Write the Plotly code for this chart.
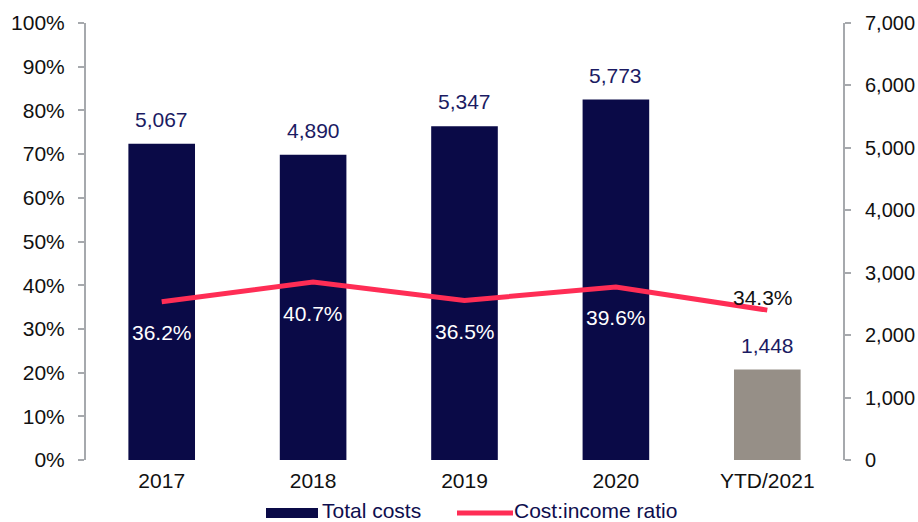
import plotly.graph_objects as go

# Data
categories = ["2017", "2018", "2019", "2020", "YTD/2021"]
total_costs = [5067, 4890, 5347, 5773, 1448]
cost_income_ratio = [0.362, 0.407, 0.365, 0.396, 0.343]

NAVY = "#0A0A47"
GREY_BAR = "#968F87"
RED = "#FF2D55"
AXIS = "#A6A9AD"
FONT = "Arial, Liberation Sans, sans-serif"
FS = 21

bar_colors = [NAVY] * 4 + [GREY_BAR]

fig = go.Figure()

# Bars on the right-hand axis (primary), ratio line on the left-hand overlay so it sits on top
fig.add_trace(go.Bar(
    x=categories, y=total_costs, yaxis="y",
    marker=dict(color=bar_colors, line=dict(width=0)),
    name="Total costs", showlegend=False, hoverinfo="skip",
))

fig.add_trace(go.Scatter(
    x=categories, y=cost_income_ratio, yaxis="y2",
    mode="lines", line=dict(color=RED, width=5),
    name="Cost:income ratio", showlegend=False, hoverinfo="skip",
))

annotations = []
# Value labels above the bars (category index used as x position)
for i, v in enumerate(total_costs):
    annotations.append(dict(
        x=i, y=v, xref="x", yref="y", text=f"{v:,}",
        showarrow=False, yanchor="bottom", yshift=11,
        font=dict(family=FONT, size=FS, color="#1B1B63"),
    ))
# Ratio labels
for i, r in enumerate(cost_income_ratio):
    last = i == len(categories) - 1
    annotations.append(dict(
        x=i, y=r, xref="x", yref="y2", text=f"{r * 100:.1f}%",
        showarrow=False, yanchor="middle",
        yshift=13 if last else -31, xshift=-4 if last else 0,
        font=dict(family=FONT, size=FS, color="#111111" if last else "white"),
    ))

# Legend drawn below the plot
PLOT_W = 757
PLOT_H = 437
key_y = -53 / PLOT_H
text_y = -50 / PLOT_H
shapes = [
    dict(type="rect", xref="paper", yref="paper",
         x0=(266 - 86) / PLOT_W, x1=(318 - 86) / PLOT_W,
         y0=key_y - 5 / PLOT_H, y1=key_y + 5 / PLOT_H,
         fillcolor=NAVY, line=dict(width=0)),
    dict(type="line", xref="paper", yref="paper",
         x0=(457 - 86) / PLOT_W, x1=(513 - 86) / PLOT_W,
         y0=key_y, y1=key_y,
         line=dict(color=RED, width=5)),
]
annotations += [
    dict(x=(321 - 86) / PLOT_W, y=text_y, xref="paper", yref="paper",
         text="Total costs", showarrow=False, xanchor="left", yanchor="middle",
         borderpad=0,
         font=dict(family=FONT, size=FS, color="#0E0E4E")),
    dict(x=(513 - 86) / PLOT_W, y=text_y, xref="paper", yref="paper",
         text="Cost:income ratio", showarrow=False, xanchor="left", yanchor="middle",
         borderpad=0,
         font=dict(family=FONT, size=FS, color="#0E0E4E")),
]

fig.update_layout(
    width=918, height=522,
    margin=dict(l=86, r=75, t=23, b=62),
    paper_bgcolor="white", plot_bgcolor="white",
    font=dict(family=FONT, size=FS, color="#111111"),
    bargap=0.56,
    showlegend=False,
    xaxis=dict(
        type="category", range=[-0.5, len(categories) - 0.5],
        showline=False, showgrid=False, ticks="",
        ticklabelstandoff=6, automargin=False,
        tickfont=dict(size=FS, color="#111111"),
    ),
    yaxis=dict(
        range=[0, 7000], dtick=1000, tickformat=",",
        side="right",
        showgrid=False, zeroline=False,
        showline=True, linecolor=AXIS, linewidth=2,
        ticks="outside", ticklen=6, tickcolor=AXIS, tickwidth=2,
        ticklabelstandoff=10, automargin=False,
        tickfont=dict(size=20, color="#111111"),
    ),
    yaxis2=dict(
        range=[0, 1], dtick=0.1, tickformat=".0%",
        overlaying="y", side="left",
        showgrid=False, zeroline=False,
        showline=True, linecolor=AXIS, linewidth=2,
        ticks="outside", ticklen=6, tickcolor=AXIS, tickwidth=2,
        ticklabelstandoff=9, automargin=False,
        tickfont=dict(size=FS, color="#111111"),
    ),
    shapes=shapes,
    annotations=annotations,
)

fig.write_html("out.html")
